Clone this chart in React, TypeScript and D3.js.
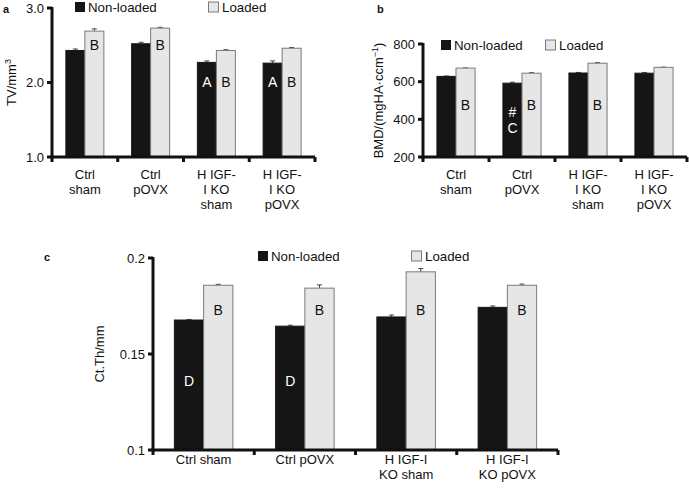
import React from "react";
import * as d3 from "d3";

const groupsAB = [["Ctrl", "sham"], ["Ctrl", "pOVX"], ["H IGF-", "I KO", "sham"], ["H IGF-", "I KO", "pOVX"]];
const groupsC = [["Ctrl sham"], ["Ctrl pOVX"], ["H IGF-I", "KO sham"], ["H IGF-I", "KO pOVX"]];
const seriesNames = ["Non-loaded", "Loaded"];

const tvNon = [2.43, 2.52, 2.27, 2.26];
const tvNonErr = [0.02, 0.02, 0.02, 0.03];
const tvLoad = [2.69, 2.73, 2.43, 2.46];
const tvLoadErr = [0.03, 0.01, 0.01, 0.01];
const tvTicks = [1.0, 2.0, 3.0];
const tvNonMarks = ["", "", "A", "A"];
const tvLoadMarks = ["B", "B", "B", "B"];

const bmdNon = [628, 592, 646, 645];
const bmdNonErr = [2, 5, 3, 4];
const bmdLoad = [672, 645, 698, 676];
const bmdLoadErr = [1, 3, 3, 1];
const bmdTicks = [200, 400, 600, 800];
const bmdNonMarks = ["", "#\nC", "", ""];
const bmdLoadMarks = ["B", "B", "B", ""];

const ctNon = [0.1677, 0.1645, 0.1693, 0.1743];
const ctNonErr = [0.0003, 0.0005, 0.001, 0.0007];
const ctLoad = [0.1858, 0.1843, 0.1928, 0.1858];
const ctLoadErr = [0.0005, 0.0017, 0.0017, 0.0006];
const ctTicks = [0.1, 0.15, 0.2];
const ctTickLabels = ["0.1", "0.15", "0.2"];
const ctNonMarks = ["D", "D", "", ""];
const ctLoadMarks = ["B", "B", "B", "B"];

const FONT = "Liberation Sans, Arial, sans-serif";
const BLACK = "#151515";
const GRAY = "#e6e6e6";
const GRAYSTROKE = "#7a7a7a";

type PanelProps = {
  letter: string;
  letterPos: [number, number];
  x0: number; x1: number; yTop: number; yBottom: number;
  domain: [number, number];
  ticks: number[]; tickLabels: string[];
  groups: string[][];
  non: number[]; nonErr: number[]; load: number[]; loadErr: number[];
  nonMarks: string[]; loadMarks: string[];
  nonMarkY: number[]; loadMarkY: number[];
  ylabel: React.ReactNode; ylabelX: number;
  legendNon: [number, number]; legendLoad: [number, number];
  catY: number; fs: number;
};

function Panel(p: PanelProps) {
  const y = d3.scaleLinear().domain(p.domain).range([p.yBottom, p.yTop]);
  const band = d3.scaleBand<number>().domain([0, 1, 2, 3]).range([p.x0, p.x1]).paddingInner(0).paddingOuter(0);
  const bw = band.bandwidth();
  const inner = d3.scaleBand<number>().domain([0, 1]).range([0, bw]).paddingOuter(0.73).paddingInner(0);
  const w = inner.bandwidth();
  const yc = (p.yTop + p.yBottom) / 2;
  const bars: React.ReactNode[] = [];
  for (let i = 0; i < 4; i++) {
    const gx = band(i)!;
    [[p.non, p.nonErr, BLACK, p.nonMarks, "#fff", p.nonMarkY], [p.load, p.loadErr, GRAY, p.loadMarks, "#111", p.loadMarkY]].forEach((s: any, k) => {
      const [vals, errs, fill, marks, mc, my] = s;
      const bx = gx + inner(k)!;
      const top = y(vals[i]);
      const et = y(vals[i] + errs[i]);
      const cx = bx + w / 2;
      bars.push(
        <g key={`${i}-${k}`}>
          <line x1={cx} x2={cx} y1={top} y2={et} stroke="#444" strokeWidth={1} />
          <line x1={cx - 2.5} x2={cx + 2.5} y1={et} y2={et} stroke="#444" strokeWidth={1} />
          <rect x={bx} y={top} width={w} height={p.yBottom - top} fill={fill} stroke={k === 1 ? GRAYSTROKE : BLACK} strokeWidth={1} />
          {marks[i] && marks[i].split("\n").map((m: string, j: number) => (
            <text key={j} x={cx} y={my[i] + j * 16} textAnchor="middle" fontSize={p.fs + 1} fill={mc} fontFamily={FONT}>{m}</text>
          ))}
        </g>
      );
    });
  }
  const xt = [0, 1, 2, 3].map((i) => band(i)!).concat([p.x1]);
  return (
    <g fontFamily={FONT}>
      <text x={p.letterPos[0]} y={p.letterPos[1]} fontSize={11} fontWeight="bold" fill="#111">{p.letter}</text>
      {bars}
      <line x1={p.x0} x2={p.x0} y1={p.yTop - 1} y2={p.yBottom + 1.5} stroke="#111" strokeWidth={3} />
      <line x1={p.x0 - 1.5} x2={p.x1} y1={p.yBottom} y2={p.yBottom} stroke="#111" strokeWidth={3} />
      {p.ticks.map((t, i) => (
        <g key={t}>
          <line x1={p.x0 - 5} x2={p.x0} y1={y(t)} y2={y(t)} stroke="#111" strokeWidth={3} />
          <text x={p.x0 - 8} y={y(t)} dy="0.35em" textAnchor="end" fontSize={p.fs} fill="#111">{p.tickLabels[i]}</text>
        </g>
      ))}
      {xt.map((x, i) => (
        <line key={i} x1={x} x2={x} y1={p.yBottom} y2={p.yBottom + 5} stroke="#111" strokeWidth={3} />
      ))}
      {p.groups.map((g, i) => (
        <text key={i} x={band(i)! + bw / 2} y={p.catY} textAnchor="middle" fontSize={p.fs} fill="#111">
          {g.map((l, j) => (
            <tspan key={j} x={band(i)! + bw / 2} dy={j === 0 ? 0 : 15}>{l}</tspan>
          ))}
        </text>
      ))}
      <text transform={`translate(${p.ylabelX},${yc}) rotate(-90)`} textAnchor="middle" fontSize={p.fs} fill="#111">{p.ylabel}</text>
      <rect x={p.legendNon[0]} y={p.legendNon[1] - 10} width={10} height={10} fill={BLACK} />
      <text x={p.legendNon[0] + 13} y={p.legendNon[1]} fontSize={13.3} fill="#111">{seriesNames[0]}</text>
      <rect x={p.legendLoad[0] + 0.5} y={p.legendLoad[1] - 10} width={10} height={10} fill={GRAY} stroke={GRAYSTROKE} strokeWidth={1} />
      <text x={p.legendLoad[0] + 14} y={p.legendLoad[1]} fontSize={13.3} fill="#111">{seriesNames[1]}</text>
    </g>
  );
}

export default function App() {
  return (
    <svg width={689} height={491} style={{ position: "absolute", left: 0, top: 0, background: "#fff" }}>
      <Panel letter="a" letterPos={[3, 13]} x0={52} x1={315} yTop={8} yBottom={157} domain={[1, 3]}
        ticks={tvTicks} tickLabels={["1.0", "2.0", "3.0"]} groups={groupsAB}
        non={tvNon} nonErr={tvNonErr} load={tvLoad} loadErr={tvLoadErr}
        nonMarks={tvNonMarks} loadMarks={tvLoadMarks} nonMarkY={[87, 87, 87, 87]} loadMarkY={[50, 50, 87, 87]}
        ylabel={<>TV/mm<tspan fontSize={9} dy={-5}>3</tspan></>} ylabelX={16}
        legendNon={[75, 12]} legendLoad={[208, 12]} catY={179} fs={13} />
      <Panel letter="b" letterPos={[377, 13]} x0={423} x1={687} yTop={44} yBottom={157} domain={[200, 800]}
        ticks={bmdTicks} tickLabels={["200", "400", "600", "800"]} groups={groupsAB}
        non={bmdNon} nonErr={bmdNonErr} load={bmdLoad} loadErr={bmdLoadErr}
        nonMarks={bmdNonMarks} loadMarks={bmdLoadMarks} nonMarkY={[117, 117, 117, 117]} loadMarkY={[110, 110, 110, 110]}
        ylabel={<>BMD/(mgHA·ccm<tspan fontSize={9} dy={-5}>−1</tspan><tspan dy={5}>)</tspan></>} ylabelX={383}
        legendNon={[441, 50]} legendLoad={[545, 50]} catY={179} fs={13} />
      <Panel letter="c" letterPos={[44, 261]} x0={153} x1={558} yTop={258} yBottom={450} domain={[0.1, 0.2]}
        ticks={ctTicks} tickLabels={ctTickLabels} groups={groupsC}
        non={ctNon} nonErr={ctNonErr} load={ctLoad} loadErr={ctLoadErr}
        nonMarks={ctNonMarks} loadMarks={ctLoadMarks} nonMarkY={[386, 386, 386, 386]} loadMarkY={[315, 315, 315, 315]}
        ylabel={"Ct.Th/mm"} ylabelX={104}
        legendNon={[258, 261]} legendLoad={[411, 261]} catY={464} fs={13} />
    </svg>
  );
}
